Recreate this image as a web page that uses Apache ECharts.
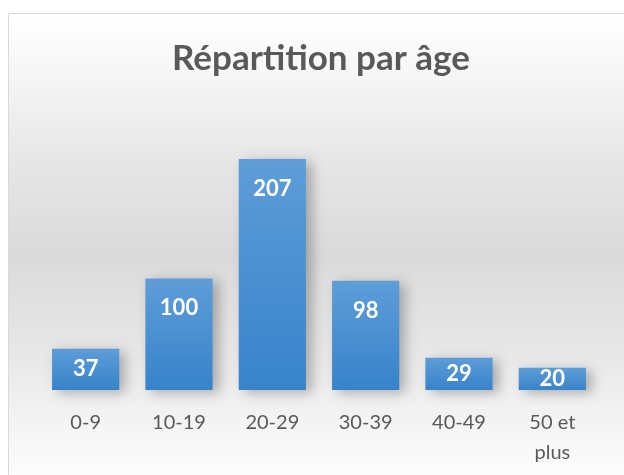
<!DOCTYPE html>
<html>
<head>
<meta charset="utf-8">
<script src="https://cdn.jsdelivr.net/npm/echarts@6/dist/echarts.min.js"></script>
<style>
  html, body { margin: 0; padding: 0; background: #fff; }
  #chart { width: 624px; height: 475px; }
</style>
</head>
<body>
<div id="chart"></div>
<script>
// données
const categories = ['0-9', '10-19', '20-29', '30-39', '40-49', '50 et\nplus']
const values = [37, 100, 207, 98, 29, 20]
const title = 'Répartition par âge'

const chart = echarts.init(document.getElementById('chart'))

const option = {
  animation: false,
  title: {
    text: title,
    left: 167,
    top: 36,
    textStyle: {
      fontFamily: 'Lato',
      fontWeight: 'bold',
      fontSize: 35,
      color: '#595959'
    }
  },
  graphic: [
    {
      type: 'rect',
      z: -10,
      silent: true,
      shape: { x: 8.5, y: 13.5, width: 640, height: 480 },
      style: {
        fill: new echarts.graphic.LinearGradient(0, 0, 0, 1, [
          { offset: 0, color: '#ffffff' },
          { offset: 0.1, color: '#f8f8f8' },
          { offset: 0.3, color: '#e7e7e7' },
          { offset: 0.5, color: '#dadada' },
          { offset: 0.72, color: '#e8e8e8' },
          { offset: 0.9, color: '#f8f8f8' },
          { offset: 1, color: '#ffffff' }
        ]),
        stroke: '#d9d9d9',
        lineWidth: 1
      }
    }
  ],
  grid: {
    left: 39,
    right: 25,
    top: 111,
    bottom: 85
  },
  xAxis: {
    type: 'category',
    data: categories,
    axisLine: { show: false },
    axisTick: { show: false },
    axisLabel: {
      color: '#595959',
      fontFamily: 'Lato',
      fontSize: 20,
      lineHeight: 30,
      margin: 18,
      interval: 0
    }
  },
  yAxis: {
    type: 'value',
    min: 0,
    max: 250,
    show: false,
    splitLine: { show: false }
  },
  series: [
    {
      type: 'bar',
      barCategoryGap: '28%',
      data: values.map(v => ({
        value: v,
        label: v < 50 ? { position: 'inside' } : {}
      })),
      itemStyle: {
        color: new echarts.graphic.LinearGradient(0, 0, 0, 1, [
          { offset: 0, color: '#5e9dd8' },
          { offset: 1, color: '#3783cb' }
        ]),
        shadowColor: 'rgba(0,0,0,0.28)',
        shadowBlur: 12,
        shadowOffsetX: 6,
        shadowOffsetY: 3
      },
      label: {
        show: true,
        position: 'insideTop',
        distance: 19,
        color: '#ffffff',
        fontFamily: 'Lato',
        fontWeight: 'bold',
        fontSize: 22
      }
    }
  ]
}

chart.setOption(option)
</script>
</body>
</html>
